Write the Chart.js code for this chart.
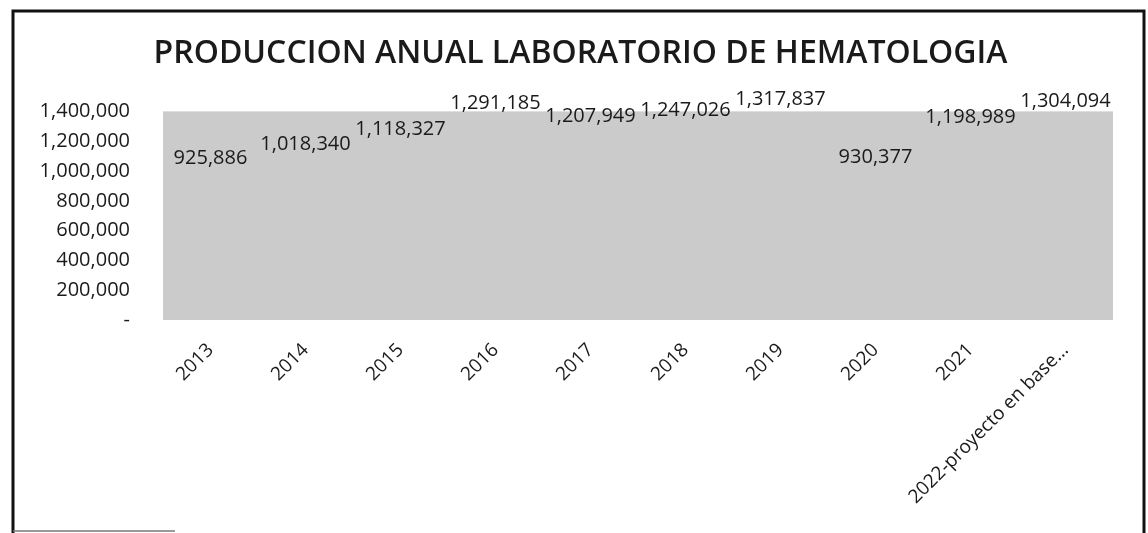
<!DOCTYPE html>
<html>
<head>
<meta charset="utf-8">
<script src="https://cdn.jsdelivr.net/npm/chart.js@4/dist/chart.umd.min.js"></script>
<style>
  body { margin: 0; background: #fff; }
  canvas { display: block; }
</style>
</head>
<body>
<canvas id="myChart" width="1148" height="533"></canvas>
<script>
var years = ["2013", "2014", "2015", "2016", "2017", "2018", "2019", "2020", "2021", "2022-proyecto en base..."];
var produccion = [925886, 1018340, 1118327, 1291185, 1207949, 1247026, 1317837, 930377, 1198989, 1304094];
var yTicks = [0, 200000, 400000, 600000, 800000, 1000000, 1200000, 1400000];

function fmt(v) {
    if (v === 0) return "-";
    return v.toLocaleString("en-US");
}

// grey plot area + scanned frame
var background = {
    id: "background",
    beforeDraw: function (chart) {
        var ctx = chart.ctx;
        var a = chart.chartArea;
        ctx.save();
        ctx.fillStyle = "#cbcbcb";
        ctx.fillRect(a.left, a.top, a.right - a.left, a.bottom - a.top);
        ctx.strokeStyle = "#111";
        ctx.lineWidth = 3;
        ctx.beginPath();
        ctx.moveTo(13, 533);
        ctx.lineTo(13, 11);
        ctx.lineTo(1144, 11);
        ctx.lineTo(1144, 533);
        ctx.stroke();
        ctx.strokeStyle = "#777";
        ctx.lineWidth = 1.5;
        ctx.beginPath();
        ctx.moveTo(13, 531);
        ctx.lineTo(175, 531);
        ctx.stroke();
        ctx.restore();
    }
};

// value labels above each point
var valueLabels = {
    id: "valueLabels",
    afterDatasetsDraw: function (chart) {
        var ctx = chart.ctx;
        var meta = chart.getDatasetMeta(0);
        ctx.save();
        ctx.font = "20px 'Open Sans'";
        ctx.fillStyle = "#1a1a1a";
        ctx.textAlign = "center";
        ctx.textBaseline = "middle";
        meta.data.forEach(function (pt, i) {
            ctx.fillText(fmt(produccion[i]), pt.x, pt.y - 24);
        });
        ctx.restore();
    }
};

var ctx = document.getElementById("myChart").getContext("2d");
var chart = new Chart(ctx, {
    type: "line",
    data: {
        labels: years,
        datasets: [
            {
                label: "Produccion",
                data: produccion,
                showLine: false,
                pointRadius: 0,
                borderColor: "rgba(0,0,0,0)",
            },
        ],
    },
    options: {
        responsive: false,
        animation: false,
        layout: { padding: { left: 13, right: 0, top: 0, bottom: 0 } },
        plugins: {
            legend: { display: false },
            tooltip: { enabled: false },
            title: {
                display: true,
                text: "PRODUCCION ANUAL LABORATORIO DE HEMATOLOGIA",
                color: "#1a1a1a",
                font: { family: "'Open Sans'", size: 32, weight: "600", lineHeight: 1.2 },
                padding: { top: 35, bottom: 38 },
            },
        },
        scales: {
            x: {
                offset: true,
                grid: { display: false, drawTicks: false },
                border: { display: false },
                ticks: {
                    color: "#1a1a1a",
                    font: { family: "'Open Sans'", size: 19 },
                    minRotation: 45,
                    maxRotation: 45,
                    autoSkip: false,
                    padding: 19,
                },
                afterFit: function (scale) { scale.height = 213; },
            },
            y: {
                min: 0,
                max: 1400000,
                afterBuildTicks: function (scale) {
                    scale.ticks = yTicks.map(function (v) { return { value: v }; });
                },
                grid: { display: false, drawTicks: false },
                border: { display: false },
                ticks: {
                    color: "#1a1a1a",
                    font: { family: "'Open Sans'", size: 20 },
                    padding: 33,
                    callback: function (v) { return fmt(v); },
                },
                afterFit: function (scale) { scale.width = 150; },
            },
            // empty right margin so the title centres like the original
            yRight: {
                position: "right",
                display: true,
                grid: { display: false, drawTicks: false },
                border: { display: false },
                ticks: { display: false },
                afterFit: function (scale) { scale.width = 35; },
            },
        },
    },
    plugins: [background, valueLabels],
});
</script>
</body>
</html>
